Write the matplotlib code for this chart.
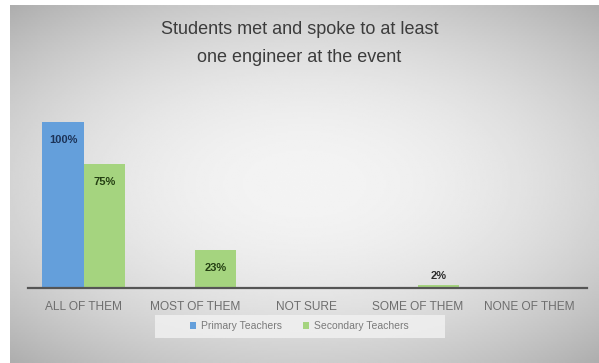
import numpy as np
import matplotlib
matplotlib.use("Agg")
import matplotlib.pyplot as plt
from matplotlib.patches import Rectangle

categories = ["ALL OF THEM", "MOST OF THEM", "NOT SURE", "SOME OF THEM", "NONE OF THEM"]
primary = [100, 0, 0, 0, 0]
secondary = [75, 23, 0, 2, 0]
series_names = ["Primary Teachers", "Secondary Teachers"]
title_lines = ["Students met and spoke to at least", "one engineer at the event"]

blue = "#649fdb"
green = "#a5d47f"

plt.rcParams["font.family"] = ["Liberation Sans", "DejaVu Sans"]

fig = plt.figure(figsize=(5.99, 3.63), dpi=100)
fig.patch.set_facecolor("white")

# soft grey panel, lighter in the middle
bg = fig.add_axes([10 / 599, 0, 589 / 599, 358 / 363])
yy, xx = np.mgrid[-1:1:200j, -1:1:300j]
r = np.sqrt((xx / 1.1) ** 2 + (yy / 1.0) ** 2)
shade = 0.955 - 0.15 * np.clip(r, 0, 1.4) ** 2
bg.imshow(shade, cmap="gray", vmin=0, vmax=1, aspect="auto",
          extent=[0, 1, 0, 1], interpolation="bilinear")
bg.set_xlim(0, 1)
bg.set_ylim(0, 1)
bg.axis("off")

ax = fig.add_axes([28 / 599, 75 / 363, 559 / 599, 182.6 / 363])
ax.patch.set_alpha(0)
x = np.arange(len(categories))
w = 0.37
b1 = ax.bar(x - w / 2, primary, w, color=blue, zorder=2)
b2 = ax.bar(x + w / 2, secondary, w, color=green, zorder=2)
ax.set_xlim(-0.5, 4.52)
ax.set_ylim(0, 110)

for bars, vals, tc in [(b1, primary, "#1c3358"), (b2, secondary, "#243f12")]:
    for bar, v in zip(bars, vals):
        if v == 0:
            continue
        cx = bar.get_x() + bar.get_width() / 2
        if v >= 10:
            ax.annotate(f"{v}%", (cx, v), xytext=(0, -13), textcoords="offset points",
                        ha="center", va="center", fontsize=8, fontweight="bold", color=tc)
        else:
            ax.annotate(f"{v}%", (cx, v), xytext=(0, 6), textcoords="offset points",
                        ha="center", va="center", fontsize=8, fontweight="bold", color="#2b2b2b")

for s in ["top", "right", "left"]:
    ax.spines[s].set_visible(False)
ax.spines["bottom"].set_color("#555555")
ax.spines["bottom"].set_linewidth(1.6)
ax.set_yticks([])
ax.set_xticks(x)
ax.set_xticklabels(categories, fontsize=8.6, color="#6e6e6e")
ax.tick_params(axis="x", length=0, pad=9)

fig.text(0.5, 1 - 30 / 363, title_lines[0], ha="center", va="center",
         fontsize=13, color="#3c3c3c")
fig.text(0.5, 1 - 57 / 363, title_lines[1], ha="center", va="center",
         fontsize=13, color="#3c3c3c")

# legend on a pale strip
fig.patches.append(Rectangle((155 / 599, 1 - 338 / 363), 290 / 599, 23 / 363,
                             transform=fig.transFigure, facecolor="#f2f2f2",
                             edgecolor="none", alpha=0.8, zorder=1))
leg = fig.legend([b1, b2], series_names, loc="center", bbox_to_anchor=(0.5, 1 - 326 / 363),
                 ncol=2, frameon=False, fontsize=7.5, handlelength=0.6, handleheight=0.6,
                 columnspacing=2.0, handletextpad=0.5)
for t in leg.get_texts():
    t.set_color("#7a7a7a")

fig.savefig("out.png", dpi=100)
